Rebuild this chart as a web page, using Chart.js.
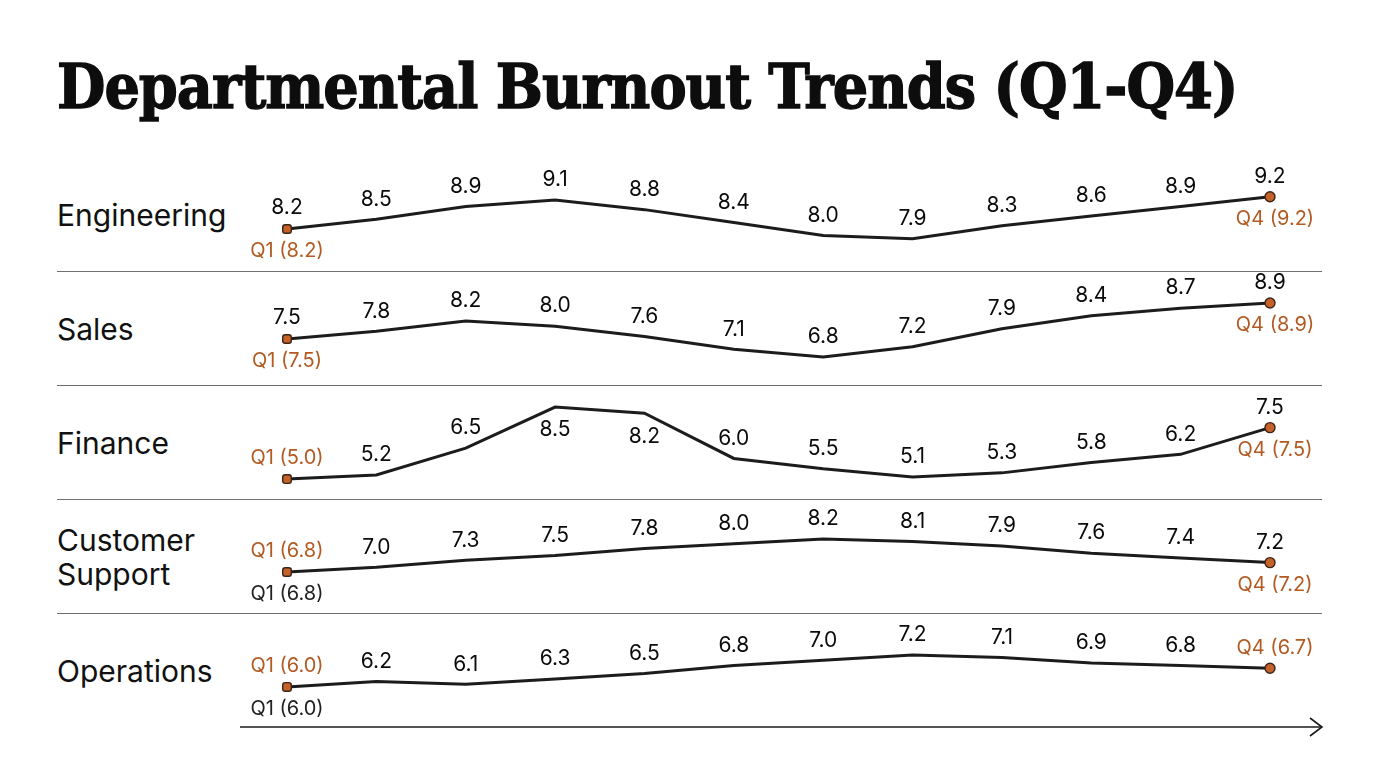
<!DOCTYPE html>
<html>
<head>
<meta charset="utf-8">
<title>Departmental Burnout Trends (Q1-Q4)</title>
<script src="https://cdn.jsdelivr.net/npm/chart.js@4.4.1/dist/chart.umd.min.js"></script>
<style>
  body { margin: 0; background: #fff; width: 1376px; height: 768px; overflow: hidden; position: relative; font-family: Inter, "Noto Sans", sans-serif; }
  h1 { position: absolute; left: 57px; top: 56px; margin: 0; font-family: "DejaVu Serif", serif; font-weight: bold; font-stretch: condensed; font-size: 62px; line-height: 1; color: #0d0d0d; white-space: nowrap; letter-spacing: -1px; -webkit-text-stroke: 1.3px #0d0d0d; }
  .dept { position: absolute; left: 57px; font-size: 30px; line-height: 34px; color: #111; transform: translateY(-50%); }
  .sep { position: absolute; left: 57px; width: 1265px; height: 0; border-top: 1.5px solid #6f6f6f; }
  .row { position: absolute; left: 240px; }
  svg { position: absolute; left: 0; top: 0; }
</style>
</head>
<body>
<h1 id="title">Departmental Burnout Trends (Q1-Q4)</h1>
<div id="rows"></div>
<svg width="1376" height="768">
  <line x1="240" y1="727" x2="1322" y2="727" stroke="#1a1a1a" stroke-width="1.6"/>
  <polyline points="1310,718 1322,727 1310,736" fill="none" stroke="#1a1a1a" stroke-width="1.6"/>
</svg>
<script>
const departments = ['Engineering', 'Sales', 'Finance', 'Customer Support', 'Operations']
const periods = ['P1', 'P2', 'P3', 'P4', 'P5', 'P6', 'P7', 'P8', 'P9', 'P10', 'P11', 'P12']

const engineering = [8.2, 8.5, 8.9, 9.1, 8.8, 8.4, 8.0, 7.9, 8.3, 8.6, 8.9, 9.2]
const sales       = [7.5, 7.8, 8.2, 8.0, 7.6, 7.1, 6.8, 7.2, 7.9, 8.4, 8.7, 8.9]
const finance     = [5.0, 5.2, 6.5, 8.5, 8.2, 6.0, 5.5, 5.1, 5.3, 5.8, 6.2, 7.5]
const support     = [6.8, 7.0, 7.3, 7.5, 7.8, 8.0, 8.2, 8.1, 7.9, 7.6, 7.4, 7.2]
const operations  = [6.0, 6.2, 6.1, 6.3, 6.5, 6.8, 7.0, 7.2, 7.1, 6.9, 6.8, 6.7]

const series = [engineering, sales, finance, support, operations]

// per-row value range of the hidden y axis
const yMin = [6.9, 5.71, 4.03, 5.06, 4.5]
const yMax = [10.43, 10.145, 9.57, 9.9, 8.77]

// what is written above / below the first and last point
// v = plain value, q = orange quarter tag, k = dark quarter tag
const startAbove = ['v', 'v', 'q', 'q', 'q']
const startBelow = ['q', 'q', '', 'k', 'k']
const endAbove   = ['v', 'v', 'v', 'v', 'q']
const endBelow   = ['q', 'q', 'q', 'q', '']

const ROW_TOP = 157
const ROW_H = 114
const ORANGE = '#b25a22'

const rowsEl = document.getElementById('rows')

const labelPlugin = {
  id: 'pointLabels',
  afterDatasetsDraw(chart) {
    const r = chart.options.plugins.pointLabels.row
    const ctx = chart.ctx
    const area = chart.chartArea
    const values = chart.data.datasets[0].data
    const pts = chart.getDatasetMeta(0).data
    const last = values.length - 1
    ctx.save()
    ctx.textAlign = 'center'
    ctx.textBaseline = 'middle'

    function write(kind, i, x, y) {
      if (!kind) return
      const q = i === 0 ? 'Q1' : 'Q4'
      if (kind === 'v') {
        ctx.font = '21px Inter, "Noto Sans", sans-serif'
        ctx.fillStyle = '#0b0b0b'
        ctx.fillText(values[i].toFixed(1), x, y)
      } else {
        ctx.font = '20px Inter, "Noto Sans", sans-serif'
        ctx.fillStyle = kind === 'q' ? ORANGE : '#222'
        ctx.fillText(q + ' (' + values[i].toFixed(1) + ')', x, y)
      }
    }

    pts.forEach((pt, i) => {
      const x = pt.x
      const y = pt.y
      if (i === 0) {
        write(startAbove[r], i, x, y - 21)
        write(startBelow[r], i, x, y + 22)
      } else if (i === last) {
        write(endAbove[r], i, x + (endAbove[r] === 'q' ? 5 : 0), y - 20)
        write(endBelow[r], i, x + 5, y + 22)
      } else {
        let ly = y - 20
        if (ly < area.top + 10) ly = y + 23
        write('v', i, x, ly)
      }
    })
    ctx.restore()
  }
}

departments.forEach((name, r) => {
  const top = ROW_TOP + r * ROW_H

  const label = document.createElement('div')
  label.className = 'dept'
  label.style.top = (top + ROW_H / 2 + 1) + 'px'
  label.innerHTML = name.replace(' ', '<br>')
  rowsEl.appendChild(label)

  if (r > 0) {
    const sep = document.createElement('div')
    sep.className = 'sep'
    sep.style.top = top + 'px'
    rowsEl.appendChild(sep)
  }

  const canvas = document.createElement('canvas')
  canvas.className = 'row'
  canvas.width = 1082
  canvas.height = ROW_H
  canvas.style.top = top + 'px'
  rowsEl.appendChild(canvas)

  const last = series[r].length - 1
  new Chart(canvas.getContext('2d'), {
    type: 'line',
    data: {
      labels: periods,
      datasets: [{
        label: name,
        data: series[r],
        borderColor: '#1c1c1c',
        borderWidth: 3,
        tension: 0,
        fill: false,
        clip: false,
        pointStyle: c => c.dataIndex === 0 ? 'rectRounded' : 'circle',
        pointRadius: c => (c.dataIndex === 0 || c.dataIndex === last) ? 5 : 0,
        pointBackgroundColor: '#c4622a',
        pointBorderColor: '#3a2418',
        pointBorderWidth: 1.4
      }]
    },
    options: {
      responsive: false,
      animation: false,
      layout: { autoPadding: false, padding: { left: 47, right: 52, top: 0, bottom: 0 } },
      scales: {
        x: { display: false, offset: false },
        y: { display: false, min: yMin[r], max: yMax[r] }
      },
      plugins: {
        legend: { display: false },
        tooltip: { enabled: false },
        pointLabels: { row: r }
      }
    },
    plugins: [labelPlugin]
  })
})
</script>
</body>
</html>
